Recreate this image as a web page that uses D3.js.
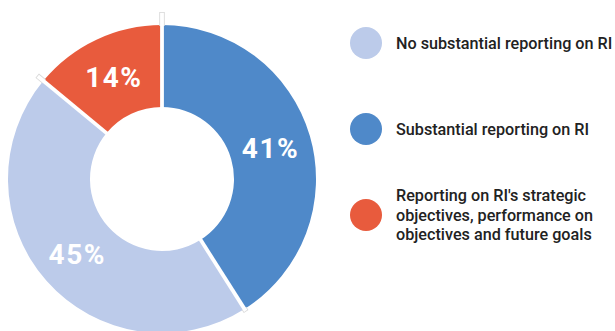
<!DOCTYPE html>
<html>
<head>
<meta charset="utf-8">
<script src="https://cdn.jsdelivr.net/npm/d3@7"></script>
<style>
  html, body { margin: 0; padding: 0; background: #fff; }
  svg { display: block; }
</style>
</head>
<body>
<svg id="chart" width="615" height="331"></svg>
<script>
// Shares of RI reporting, clockwise from 12 o'clock
const categories = [
  "Substantial reporting on RI",
  "No substantial reporting on RI",
  "Reporting on RI's strategic objectives, performance on objectives and future goals"
];
const shares = [41, 45, 14];
const sliceColors = ["#4f89c9", "#bccbea", "#e85b3d"];

// Legend order and wrapped lines
const legendOrder = [1, 0, 2];
const legendLines = [
  ["No substantial reporting on RI"],
  ["Substantial reporting on RI"],
  ["Reporting on RI's strategic", "objectives, performance on", "objectives and future goals"]
];

const svg = d3.select("#chart");
const cx = 162, cy = 179, outerR = 154, innerR = 72;

const pie = d3.pie().sort(null).value(d => d)(shares);
const arc = d3.arc().innerRadius(innerR).outerRadius(outerR);
const labelArc = d3.arc().innerRadius(innerR).outerRadius(outerR);

const g = svg.append("g").attr("transform", `translate(${cx},${cy})`);

g.selectAll("path.slice")
  .data(pie)
  .enter().append("path")
  .attr("class", "slice")
  .attr("d", arc)
  .attr("fill", (d, i) => sliceColors[i]);

// White dividers between slices, poking slightly past the rim
const overshoot = [13, 3, 8];
const dividers = pie.map((d, i) => ({ angle: d.startAngle, ext: overshoot[i] }));
const pt = (a, r) => [Math.sin(a) * r, -Math.cos(a) * r];

dividers.forEach(dv => {
  const [x0, y0] = pt(dv.angle, outerR - 1);
  const [x1, y1] = pt(dv.angle, outerR + dv.ext);
  g.append("line")
    .attr("x1", x0).attr("y1", y0).attr("x2", x1).attr("y2", y1)
    .attr("stroke", "#d9d9d9").attr("stroke-width", 5.5);
});
dividers.forEach(dv => {
  const [x0, y0] = pt(dv.angle, innerR - 2);
  const [x1, y1] = pt(dv.angle, outerR + dv.ext - 0.8);
  g.append("line")
    .attr("x1", x0).attr("y1", y0).attr("x2", x1).attr("y2", y1)
    .attr("stroke", "#ffffff").attr("stroke-width", 3.8);
});

// Percentage labels at slice centroids
g.selectAll("text.pct")
  .data(pie)
  .enter().append("text")
  .attr("class", "pct")
  .attr("transform", d => {
    const [x, y] = labelArc.centroid(d);
    return `translate(${x},${y})`;
  })
  .attr("text-anchor", "middle")
  .attr("dy", "0.36em")
  .attr("font-family", "Roboto, 'Open Sans', sans-serif")
  .attr("font-weight", 700)
  .attr("font-size", 28)
  .attr("letter-spacing", 1.5)
  .attr("fill", "#ffffff")
  .text(d => d.data + "%");

// Legend
const legendY = d3.scalePoint().domain(d3.range(legendOrder.length)).range([43, 215]);
const legend = svg.append("g");

legendOrder.forEach((idx, k) => {
  const y = legendY(k);
  legend.append("circle")
    .attr("cx", 366).attr("cy", y).attr("r", 16)
    .attr("fill", sliceColors[idx]);
  const lines = legendLines[k];
  const lh = 19.5;
  const t = legend.append("text")
    .attr("x", 396)
    .attr("y", y - (lines.length - 1) * lh / 2)
    .attr("font-family", "Roboto, sans-serif")
    .attr("font-weight", 500)
    .attr("font-size", 16.2)
    .attr("fill", "#222222");
  lines.forEach((ln, j) => {
    t.append("tspan").attr("x", 396).attr("dy", j === 0 ? "0.35em" : lh).text(ln);
  });
});
</script>
</body>
</html>
